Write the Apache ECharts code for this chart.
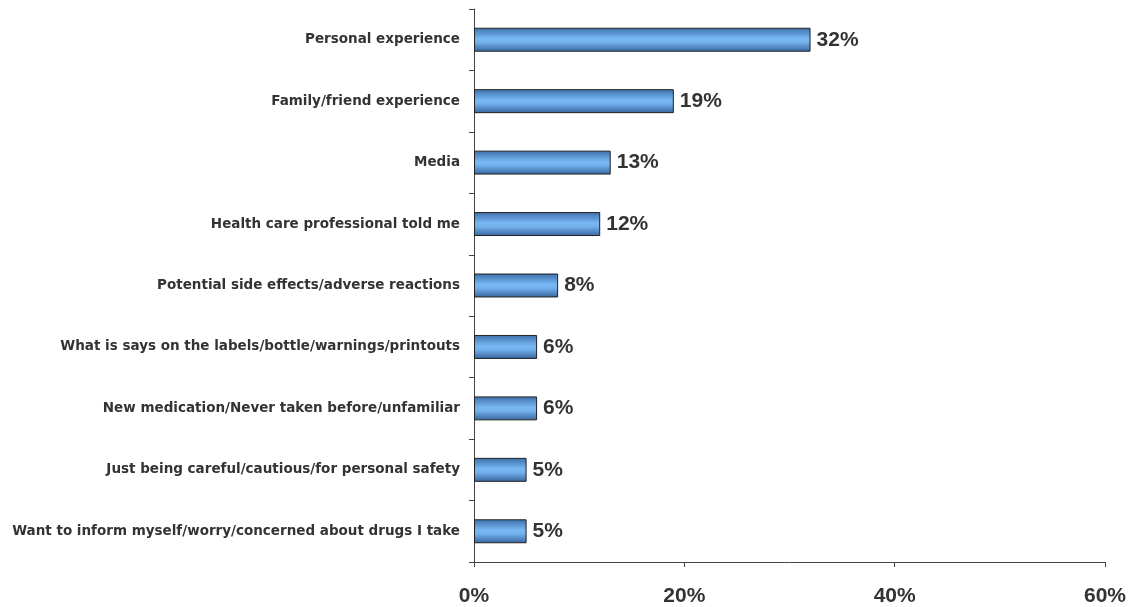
<!DOCTYPE html>
<html>
<head>
<meta charset="utf-8">
<script src="https://cdn.jsdelivr.net/npm/echarts@6/dist/echarts.min.js"></script>
<style>
  html, body { margin: 0; padding: 0; background: #ffffff; }
  #chart { width: 1140px; height: 607px; }
</style>
</head>
<body>
<div id="chart"></div>
<script>
// Reasons given, listed top to bottom
const categories = [
  'Personal experience',
  'Family/friend experience',
  'Media',
  'Health care professional told me',
  'Potential side effects/adverse reactions',
  'What is says on the labels/bottle/warnings/printouts',
  'New medication/Never taken before/unfamiliar',
  'Just being careful/cautious/for personal safety',
  'Want to inform myself/worry/concerned about drugs I take'
];
// Share of respondents, percent
const values = [32, 19, 13, 12, 8, 6, 6, 5, 5];
// Value axis range and step, percent
const axisMin = 0;
const axisMax = 60;
const axisStep = 20;

const textColor = '#333333';
const numberFont = '"Liberation Sans", Arial, sans-serif';
const labelFont = '"DejaVu Sans", Verdana, sans-serif';

const barFill = new echarts.graphic.LinearGradient(0, 0, 0, 1, [
  { offset: 0, color: '#3c6eaa' },
  { offset: 0.45, color: '#78b7f4' },
  { offset: 0.6, color: '#74b2ef' },
  { offset: 1, color: '#36649c' }
]);

const chart = echarts.init(document.getElementById('chart'), null, { renderer: 'canvas' });
chart.setOption({
  backgroundColor: '#ffffff',
  animation: false,
  grid: { left: 474, right: 35, top: 9, bottom: 45, containLabel: false },
  xAxis: {
    type: 'value',
    min: axisMin,
    max: axisMax,
    interval: axisStep,
    axisLine: { show: true, lineStyle: { color: '#444', width: 1 } },
    axisTick: { show: true, inside: false, length: 5, lineStyle: { color: '#444' } },
    splitLine: { show: false },
    axisLabel: {
      margin: 24,
      color: textColor,
      fontFamily: numberFont,
      fontWeight: 'bold',
      fontSize: 21,
      formatter: v => v + '%'
    }
  },
  yAxis: {
    type: 'category',
    inverse: true,
    data: categories,
    axisLine: { show: true, lineStyle: { color: '#444', width: 1 } },
    axisTick: { show: true, inside: false, length: 5, alignWithLabel: false, lineStyle: { color: '#444' } },
    axisLabel: {
      margin: 14,
      color: textColor,
      fontFamily: labelFont,
      fontWeight: 'bold',
      fontSize: 13.5
    }
  },
  series: [{
    type: 'bar',
    data: values,
    barCategoryGap: '61%',
    itemStyle: {
      color: barFill,
      borderColor: '#222222',
      borderWidth: 1
    },
    label: {
      show: true,
      position: 'right',
      distance: 6,
      color: textColor,
      fontFamily: numberFont,
      fontWeight: 'bold',
      fontSize: 21,
      formatter: p => p.value + '%'
    }
  }]
});
</script>
</body>
</html>
